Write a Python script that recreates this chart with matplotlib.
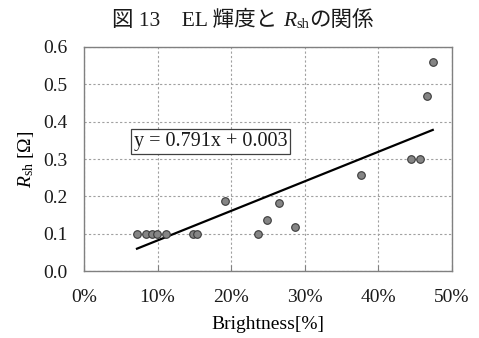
import numpy as np
import matplotlib
matplotlib.use("Agg")
import matplotlib.pyplot as plt
from matplotlib.ticker import FuncFormatter, MultipleLocator

plt.rcParams['font.family'] = ['Liberation Serif', 'Noto Sans CJK JP']
plt.rcParams['mathtext.fontset'] = 'custom'
plt.rcParams['mathtext.rm'] = 'Liberation Serif'
plt.rcParams['mathtext.it'] = 'Liberation Serif:italic'
plt.rcParams['text.color'] = '#1a1a1a'
plt.rcParams['xtick.labelcolor'] = '#1a1a1a'
plt.rcParams['ytick.labelcolor'] = '#1a1a1a'

# EL 輝度 (fraction) と Rsh [Ω]
brightness = [0.072, 0.084, 0.092, 0.099, 0.111, 0.148, 0.153, 0.191,
              0.237, 0.249, 0.265, 0.287, 0.376, 0.444, 0.456, 0.466, 0.474]
rsh = [0.10, 0.10, 0.10, 0.10, 0.10, 0.10, 0.10, 0.187,
       0.099, 0.136, 0.181, 0.118, 0.257, 0.300, 0.300, 0.469, 0.561]
slope, intercept = 0.791, 0.003

fig = plt.figure(figsize=(4.79, 3.38), dpi=100)
ax = fig.add_axes([0.1754, 0.198, 0.768, 0.663])

x = np.array(brightness)
ax.scatter(x, rsh, s=30, facecolor='#858585', edgecolor='#3a3a3a',
           linewidth=0.8, zorder=3)
xl = np.array([x.min(), x.max()])
ax.plot(xl, slope * xl + intercept, color='black', lw=1.6, zorder=2)

ax.set_xlim(0, 0.5)
ax.set_ylim(0, 0.6)
ax.xaxis.set_major_locator(MultipleLocator(0.1))
ax.yaxis.set_major_locator(MultipleLocator(0.1))
ax.xaxis.set_major_formatter(FuncFormatter(lambda v, p: f"{v*100:.0f}%"))
ax.yaxis.set_major_formatter(FuncFormatter(lambda v, p: f"{v:.1f}"))
ax.grid(True, color='#a0a0a0', linestyle=(0, (2, 2)), lw=0.8)
ax.tick_params(axis='x', direction='in', length=4, color='#808080',
               labelsize=14, pad=13)
ax.tick_params(axis='y', length=0, labelsize=14, pad=12)
for s in ax.spines.values():
    s.set_color('#808080')
    s.set_linewidth(1.0)

ax.set_xlabel('Brightness[%]', fontsize=14, labelpad=7)
ax.set_ylabel(r'$R_\mathrm{sh}$ [Ω]', fontsize=14, labelpad=5)

ax.text(0.172, 0.348, f"y = {slope}x + {intercept}", fontsize=14.5,
        ha='center', va='center',
        bbox=dict(boxstyle='square,pad=0.15', fc='white', ec='#404040', lw=0.9))

# タイトル（部分ごとに並べる）
fig.canvas.draw()
r = fig.canvas.get_renderer()
parts = [("図 13　EL 輝度と ", dict(fontsize=15.5)),
         ("R", dict(fontsize=15.5, style='italic')),
         ("sh", dict(fontsize=10.5)),
         ("の関係", dict(fontsize=15.5))]
texts = []
for s, kw in parts:
    texts.append(fig.text(0, 0, s, va='baseline', **kw))
widths = [t.get_window_extent(r).width for t in texts]
x0 = (486 - sum(widths)) / 2
ybase = 338 - 26
for t, w, (s, kw) in zip(texts, widths, parts):
    dy = -2 if s == "sh" else 0
    t.set_position((x0 / 479, (ybase + dy) / 338))
    x0 += w

fig.savefig('out.png', dpi=100)
